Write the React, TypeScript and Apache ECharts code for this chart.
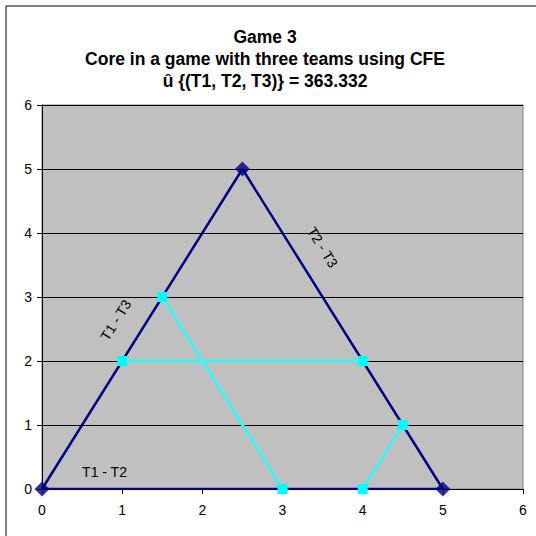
import React, { useEffect, useRef } from "react";
import * as echarts from "echarts";

const titleLines = [
  "Game 3",
  "Core in a game with three teams using CFE",
  "û {(T1, T2, T3)} = 363.332",
];
const triangleX = [0, 2.5, 5, 0];
const triangleY = [0, 5, 0, 0];
const triangleVertexX = [0, 2.5, 5];
const triangleVertexY = [0, 5, 0];
const coreSegments: number[][][] = [
  [[1, 2], [4, 2]],
  [[1.5, 3], [3, 0]],
  [[4, 0], [4.5, 1]],
];
const edgeLabels = ["T1 - T2", "T1 - T3", "T2 - T3"];
const edgeLabelX = [0.78, 0.92, 3.5];
const edgeLabelY = [0.27, 2.64, 3.78];
const edgeLabelAngle = [0, 58, -58];

export default function App() {
  const ref = useRef<HTMLDivElement>(null);
  useEffect(() => {
    document.body.style.margin = "0";
    const chart = echarts.init(ref.current!, null, { renderer: "svg" });
    const font = "'Liberation Sans', Arial, sans-serif";
    const series: any[] = [
      {
        type: "line",
        data: triangleX.map((x, i) => [x, triangleY[i]]),
        showSymbol: false,
        symbol: "none",
        lineStyle: { color: "#000080", width: 2.5 },
        z: 3,
      },
      {
        type: "scatter",
        data: triangleVertexX.map((x, i) => [x, triangleVertexY[i]]),
        symbol: "diamond",
        symbolSize: [15, 15],
        itemStyle: { color: "#000080" },
        z: 5,
      },
    ];
    coreSegments.forEach((seg) => {
      series.push({
        type: "line",
        data: seg,
        symbol: "rect",
        symbolSize: 10,
        showAllSymbol: true,
        lineStyle: { color: "#40F2F2", width: 3 },
        itemStyle: { color: "#00FFFF", borderWidth: 0 },
        z: 4,
      });
    });
    chart.setOption({
      animation: false,
      title: {
        text: titleLines.join("\n"),
        left: 260,
        textAlign: "center",
        top: 21,
        textStyle: {
          fontFamily: font,
          fontWeight: "bold",
          fontSize: 17.5,
          lineHeight: 22,
          color: "#000",
        },
      },
      grid: {
        left: 42,
        right: 13,
        top: 105,
        bottom: 47,
        show: true,
        backgroundColor: "#C0C0C0",
        borderColor: "#808080",
        borderWidth: 1,
      },
      xAxis: {
        type: "value",
        min: 0,
        max: 6,
        interval: 1,
        axisLine: { show: true, lineStyle: { color: "#000", width: 1 } },
        axisTick: { show: true, inside: false, length: 5, lineStyle: { color: "#000" } },
        axisLabel: { fontFamily: font, fontSize: 14, color: "#000", margin: 14 },
        splitLine: { show: false },
      },
      yAxis: {
        type: "value",
        min: 0,
        max: 6,
        interval: 1,
        axisLine: { show: true, lineStyle: { color: "#000", width: 1 } },
        axisTick: { show: true, inside: false, length: 5, lineStyle: { color: "#000" } },
        axisLabel: { fontFamily: font, fontSize: 14, color: "#000", margin: 10 },
        splitLine: { show: true, lineStyle: { color: "#000", width: 1 } },
      },
      series,
    });
    const graphic: any[] = [
      {
        type: "rect",
        shape: { x: 6, y: 6, width: 600, height: 600 },
        style: { fill: "none", stroke: "#000", lineWidth: 1 },
        silent: true,
      },
    ];
    edgeLabels.forEach((t, i) => {
      const p = chart.convertToPixel({ gridIndex: 0 }, [edgeLabelX[i], edgeLabelY[i]]);
      graphic.push({
        type: "text",
        x: p[0],
        y: p[1],
        rotation: (edgeLabelAngle[i] * Math.PI) / 180,
        style: {
          text: t,
          fontFamily: font,
          fontSize: 14,
          fill: "#000",
          align: "center",
          verticalAlign: "middle",
        },
        z: 10,
      });
    });
    chart.setOption({ graphic });
    return () => chart.dispose();
  }, []);
  return (
    <div
      ref={ref}
      style={{ position: "absolute", left: 0, top: 0, width: 536, height: 536, background: "#fff" }}
    />
  );
}
